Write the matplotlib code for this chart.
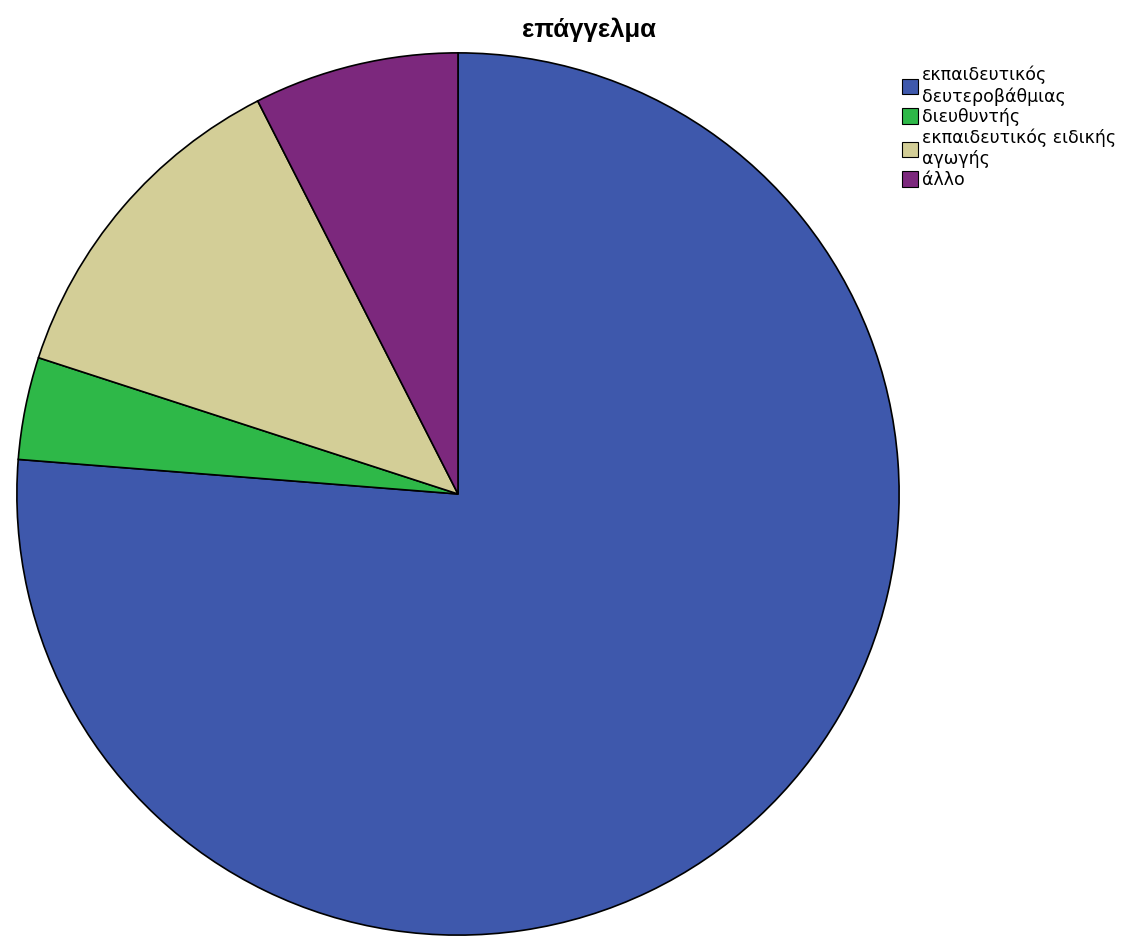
import matplotlib.pyplot as plt
from matplotlib.patches import Patch

# Profession breakdown (counts)
labels = ["εκπαιδευτικός\nδευτεροβάθμιας", "διευθυντής",
          "εκπαιδευτικός ειδικής\nαγωγής", "άλλο"]
counts = [61, 3, 10, 6]
colors = ["#3E58AC", "#2EB848", "#D3CE97", "#7C287D"]

plt.rcParams["font.family"] = ["Liberation Sans", "DejaVu Sans"]

W, H = 1129, 938
fig = plt.figure(figsize=(W / 100, H / 100), dpi=100)

# pie area in pixel terms: centre (458, 494), radius 442
cx, cy, r = 458, 494, 442
ax = fig.add_axes([(cx - r) / W, (H - cy - r) / H, 2 * r / W, 2 * r / H])
ax.pie(counts, colors=colors, startangle=90, counterclock=False,
       wedgeprops=dict(edgecolor="black", linewidth=1.2))
ax.set_xlim(-1.002, 1.002)
ax.set_ylim(-1.002, 1.002)
ax.set_aspect("equal")
ax.axis("off")

fig.text(589 / W, 1 - 30 / H, "επάγγελμα", ha="center", va="center",
         fontsize=18.5, fontweight="bold")

handles = [Patch(facecolor=c, edgecolor="black", linewidth=0.8) for c in colors]
fig.legend(handles, labels, loc="upper left", bbox_to_anchor=(893 / W, 1 - 57 / H),
           frameon=False, handlelength=0.95, handleheight=1.0,
           handletextpad=0.2, labelspacing=0.15, borderpad=0,
           prop={"family": "DejaVu Sans", "size": 12.5})

fig.savefig("out.png", dpi=100)
